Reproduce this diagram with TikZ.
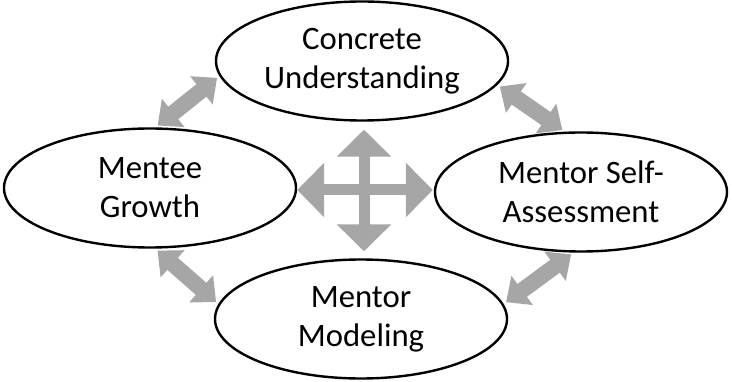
\documentclass[tikz,border=0pt]{standalone}
\usepackage{fontspec}
\setmainfont{Carlito}
\usetikzlibrary{shapes.geometric,arrows.meta}
\definecolor{mgarrow}{HTML}{A6A6A6}

\begin{document}
\begin{tikzpicture}[x=1pt,y=1pt,
    stage/.style={ellipse,draw=black,line width=2.4pt,fill=white,
      minimum width=292pt,minimum height=119pt,inner sep=0pt,
      align=center,font=\fontsize{32.7}{39}\selectfont},
    link/.style={draw=mgarrow,line width=16pt,shorten <=3pt,shorten >=3pt,
      {Triangle[length=20pt,width=35pt]}-{Triangle[length=20pt,width=35pt]}},
    hublink/.style={draw=mgarrow,line width=11pt,
      {Triangle[length=27pt,width=53pt]}-{Triangle[length=27pt,width=53pt]}}]
  \useasboundingbox (0,0) rectangle (732,381);
  % the four stages of the cycle
  \node[stage] (concrete) at (362,320) {Concrete\\Understanding};
  \node[stage] (growth)   at (150,193) {Mentee\\Growth};
  \node[stage] (selfas)   at (581,189) {Mentor Self-\\Assessment};
  \node[stage] (modeling) at (361,62)  {Mentor\\Modeling};
  \coordinate (hub) at (364,191);
  % links round the ring
  \foreach \a/\b in {growth.85/concrete.186,concrete.350/selfas.105,
                     growth.275/modeling.174,modeling.6/selfas.263}
    \draw[link] (\a) -- (\b);
  % the cross in the middle
  \draw[hublink] ([yshift=-8pt]concrete.south -| hub) -- ([yshift=7pt]modeling.north -| hub);
  \draw[hublink] (growth.east |- hub) -- ([xshift=-1pt]selfas.west |- hub);
\end{tikzpicture}
\end{document}
